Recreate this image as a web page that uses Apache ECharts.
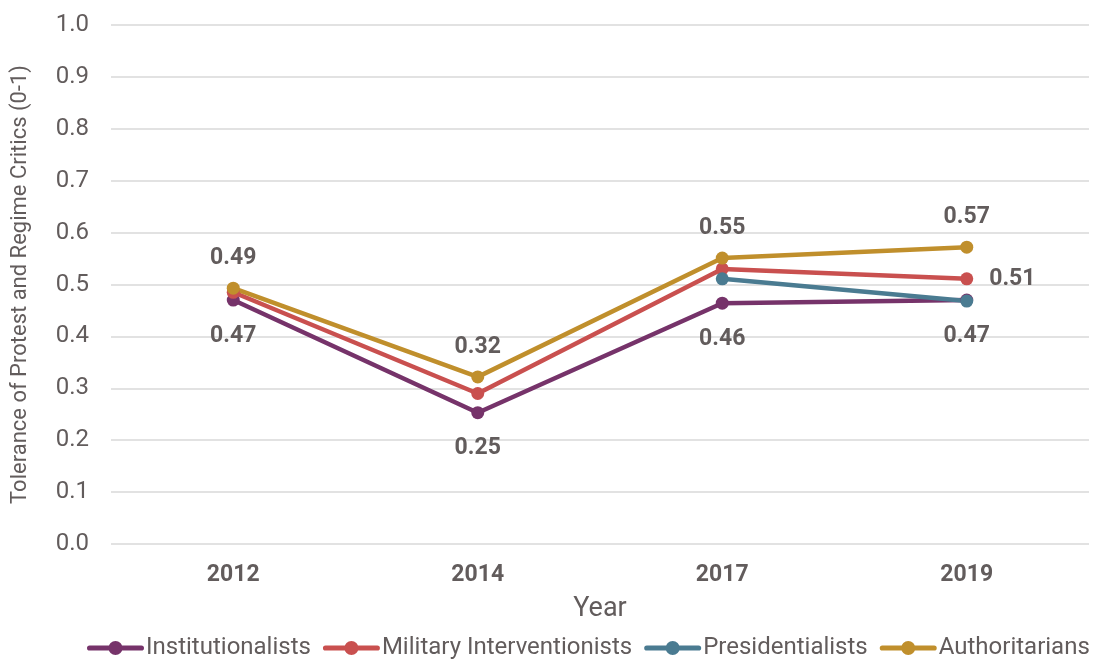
<!DOCTYPE html>
<html><head><meta charset="utf-8">
<script src="https://cdn.jsdelivr.net/npm/echarts@6/dist/echarts.min.js"></script>
<style>html,body{margin:0;padding:0;background:#fff}#c{width:1095px;height:660px}</style>
</head><body><div id="c"></div>
<script>
const years = ['2012', '2014', '2017', '2019'];
const institutionalists = [0.47, 0.253, 0.464, 0.47];
const militaryInterventionists = [0.485, 0.29, 0.53, 0.511];
const presidentialists = [null, null, 0.511, 0.468];
const authoritarians = [0.493, 0.322, 0.551, 0.572];
const yTicks = [0, 0.1, 0.2, 0.3, 0.4, 0.5, 0.6, 0.7, 0.8, 0.9, 1.0];

const txt = '#625c5c';
const labelBase = {show: true, fontFamily: 'Roboto', fontWeight: 'bold', fontSize: 23, color: txt,
  formatter: p => p.value.toFixed(2)};
const distances = {top: 12, bottom: 18, right: 16};

function mk(name, data, color, labelPos, labelIdx) {
  return {
    name, type: 'line', color,
    symbol: 'circle', symbolSize: 13,
    lineStyle: {width: 4.5, color},
    itemStyle: {color},
    connectNulls: false,
    label: {show: false},
    data: data.map((v, i) => (labelIdx.includes(i) && v != null)
      ? {value: v, label: Object.assign({}, labelBase, {position: labelPos, distance: distances[labelPos]})}
      : v)
  };
}

const chart = echarts.init(document.getElementById('c'));
chart.setOption({
  animation: false,
  textStyle: {fontFamily: 'Roboto'},
  grid: {left: 111, right: 6, top: 25, bottom: 116},
  legend: {
    top: 636, left: 87, padding: 0, itemGap: 12, itemWidth: 57, itemHeight: 14,
    textStyle: {fontSize: 24, color: txt, fontFamily: 'Roboto', padding: [0, 0, 0, -3]},
    icon: 'path://M2.6,4.4 L54.4,4.4 A2.6,2.6 0 0 1 54.4,9.6 L2.6,9.6 A2.6,2.6 0 0 1 2.6,4.4 Z M21.5,7 A7,7 0 1 1 35.5,7 A7,7 0 1 1 21.5,7 Z'
  },
  xAxis: {
    type: 'category', data: years, boundaryGap: true,
    name: 'Year', nameLocation: 'middle', nameGap: 52,
    nameTextStyle: {fontSize: 27, color: txt},
    axisLine: {show: false}, axisTick: {show: false},
    axisLabel: {fontSize: 23, fontWeight: 'bold', color: txt, margin: 20}
  },
  yAxis: {
    type: 'value', min: 0, max: 1, interval: 0.1,
    name: 'Tolerance of Protest and Regime Critics (0-1)', nameLocation: 'middle', nameGap: 80,
    nameTextStyle: {fontSize: 22, color: txt},
    axisLabel: {fontSize: 24, color: txt, margin: 22, formatter: v => v.toFixed(1)},
    splitLine: {lineStyle: {color: '#d9d9d9', width: 1.5}},
    axisLine: {show: false}, axisTick: {show: false}
  },
  series: [
    mk('Institutionalists', institutionalists, '#76336a', 'bottom', [0, 1, 2, 3]),
    mk('Military Interventionists', militaryInterventionists, '#c9504f', 'right', [3]),
    mk('Presidentialists', presidentialists, '#4a7b91', 'top', []),
    mk('Authoritarians', authoritarians, '#c08f2c', 'top', [0, 1, 2, 3])
  ]
});
</script></body></html>
